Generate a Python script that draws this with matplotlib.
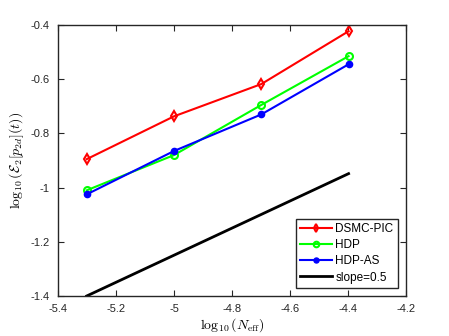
import matplotlib
matplotlib.use("Agg")
import matplotlib.pyplot as plt

plt.rcParams['font.family'] = ['Liberation Sans', 'DejaVu Sans']
plt.rcParams['mathtext.fontset'] = 'cm'
plt.rcParams['axes.unicode_minus'] = False

x = [-5.301, -5.0, -4.699, -4.398]
dsmc = [-0.895, -0.737, -0.618, -0.423]
hdp = [-1.01, -0.88, -0.695, -0.515]
hdp_as = [-1.025, -0.865, -0.73, -0.545]
slope_x = [-5.301, -4.398]
slope_y = [-1.4, -0.9485]

xticks = [-5.4, -5.2, -5.0, -4.8, -4.6, -4.4, -4.2]
xticklabels = ['-5.4', '-5.2', '-5', '-4.8', '-4.6', '-4.4', '-4.2']
yticks = [-1.4, -1.2, -1.0, -0.8, -0.6, -0.4]
yticklabels = ['-1.4', '-1.2', '-1', '-0.8', '-0.6', '-0.4']

fig = plt.figure(figsize=(4.49, 3.36), dpi=100)
ax = fig.add_axes([58/449, 1-296/336, (406-58)/449, (296-25)/336])

ax.plot(x, dsmc, color='#ff0000', lw=1.5, marker='d', ms=5, mfc='none', mew=1.5, label='DSMC-PIC')
ax.plot(x, hdp, color='#00ff00', lw=1.5, marker='o', ms=5, mfc='none', mew=1.5, label='HDP')
ax.plot(x, hdp_as, color='#0000ff', lw=1.5, marker='o', ms=4.5, mfc='#0000ff', mew=1.0, label='HDP-AS')
ax.plot(slope_x, slope_y, color='black', lw=2, label='slope=0.5')

ax.set_xlim(-5.4, -4.2)
ax.set_ylim(-1.4, -0.4)
ax.set_xticks(xticks)
ax.set_xticklabels(xticklabels)
ax.set_yticks(yticks)
ax.set_yticklabels(yticklabels)
ax.tick_params(direction='in', top=True, right=True, labelsize=8, length=4, width=0.8, colors='#262626')
ax.tick_params(axis='x', pad=6)
ax.tick_params(axis='y', pad=6)
for s in ax.spines.values():
    s.set_linewidth(1.0)
    s.set_color('#262626')

ax.set_xlabel(r'$\log_{10}(N_{\rm eff})$', fontsize=10, labelpad=1)
ax.set_ylabel(r'$\log_{10}(\mathcal{E}_2[p_{2d}](t))$', fontsize=10, labelpad=3)

leg = ax.legend(loc='lower right', fontsize=8.5, fancybox=False, framealpha=1,
                edgecolor='#262626', borderpad=0.35, labelspacing=0.35,
                handlelength=2.7, handletextpad=0.3, borderaxespad=0.7,
                markerscale=0.8)
leg.get_frame().set_linewidth(1.0)

fig.savefig('out.png', dpi=100)
